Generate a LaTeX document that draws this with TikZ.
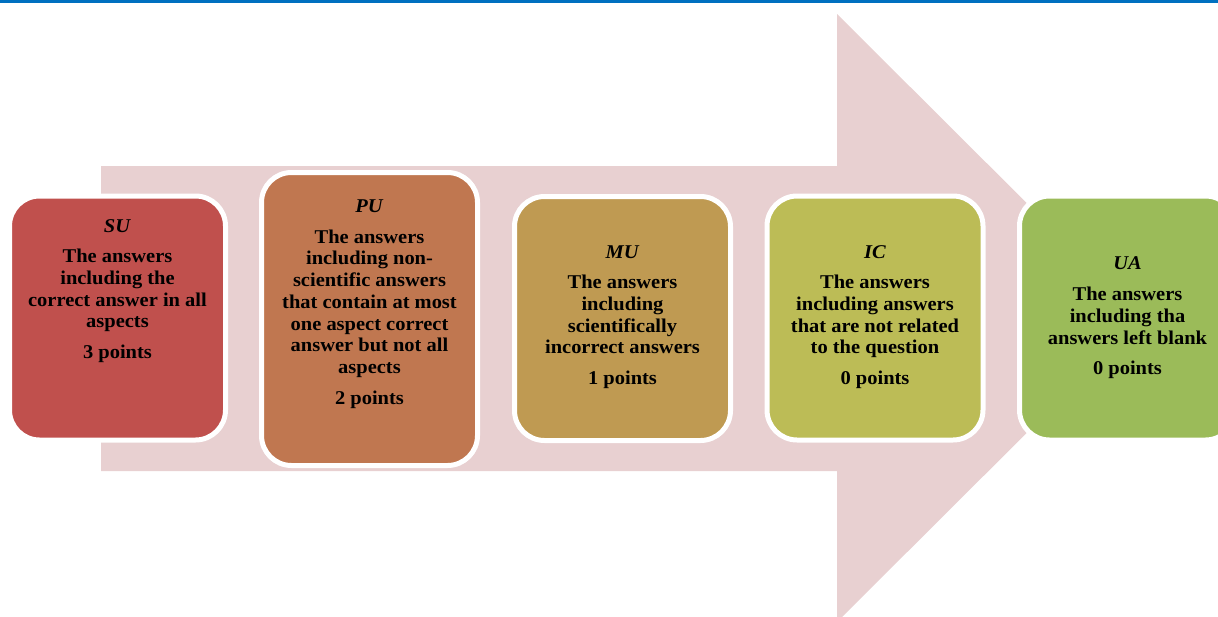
\documentclass[tikz,border=0pt]{standalone}
\usepackage{fontspec}
\setmainfont{Liberation Serif}[FakeStretch=1.05]
\definecolor{bluebar}{RGB}{0,112,192}
\definecolor{arrowpink}{RGB}{232,208,209}
\definecolor{sucol}{RGB}{192,80,77}
\definecolor{pucol}{RGB}{192,119,80}
\definecolor{mucol}{RGB}{191,154,82}
\definecolor{iccol}{RGB}{188,188,86}
\definecolor{uacol}{RGB}{155,187,89}
\begin{document}
\begin{tikzpicture}[x=1pt,y=-1pt,
  stage/.style={rectangle, rounded corners=30pt, draw=white, line width=5pt,
    minimum width=216pt, minimum height=244pt, inner sep=0pt},
  stagetext/.style={align=center, font=\fontsize{19.5}{21.7}\selectfont\bfseries,
    text=black, inner sep=0pt}]
\useasboundingbox (0,0) rectangle (1218,616);
\clip (0,0) rectangle (1218,616);
% top blue rule
\fill[bluebar] (0,0) rectangle (1218,2.5);
% big background arrow
\fill[arrowpink] (101,166) -- (837,166) -- (837,14) -- (1142,318) -- (837,622)
  -- (837,471) -- (101,471) -- cycle;
% stage boxes
\node[stage, fill=sucol] (su) at (117.5,318) {};
\node[stage, fill=pucol, minimum height=293pt] (pu) at (369.5,319) {};
\node[stage, fill=mucol] (mu) at (622.5,318.5) {};
\node[stage, fill=iccol] (ic) at (875,318) {};
\node[stage, fill=uacol] (ua) at (1127.5,318) {};
% texts
\node[stagetext] (tsu) at (117.5,291) {\textit{SU}\\[9pt]The answers\\including the\\correct answer in all\\aspects\\[9pt]3 points};
\node[stagetext] (tpu) at (369.5,304) {\textit{PU}\\[9pt]The answers\\including non-\\scientific answers\\that contain at most\\one aspect correct\\answer but not all\\aspects\\[9pt]2 points};
\node[stagetext] (tmu) at (622.5,317) {\textit{MU}\\[9pt]The answers\\including\\scientifically\\incorrect answers\\[9pt]1 points};
\node[stagetext] (tic) at (875,317) {\textit{IC}\\[9pt]The answers\\including answers\\that are not related\\to the question\\[9pt]0 points};
\node[stagetext] (tua) at (1127.5,318) {\textit{UA}\\[9pt]The answers\\including tha\\answers left blank\\[9pt]0 points};
\end{tikzpicture}
\end{document}
